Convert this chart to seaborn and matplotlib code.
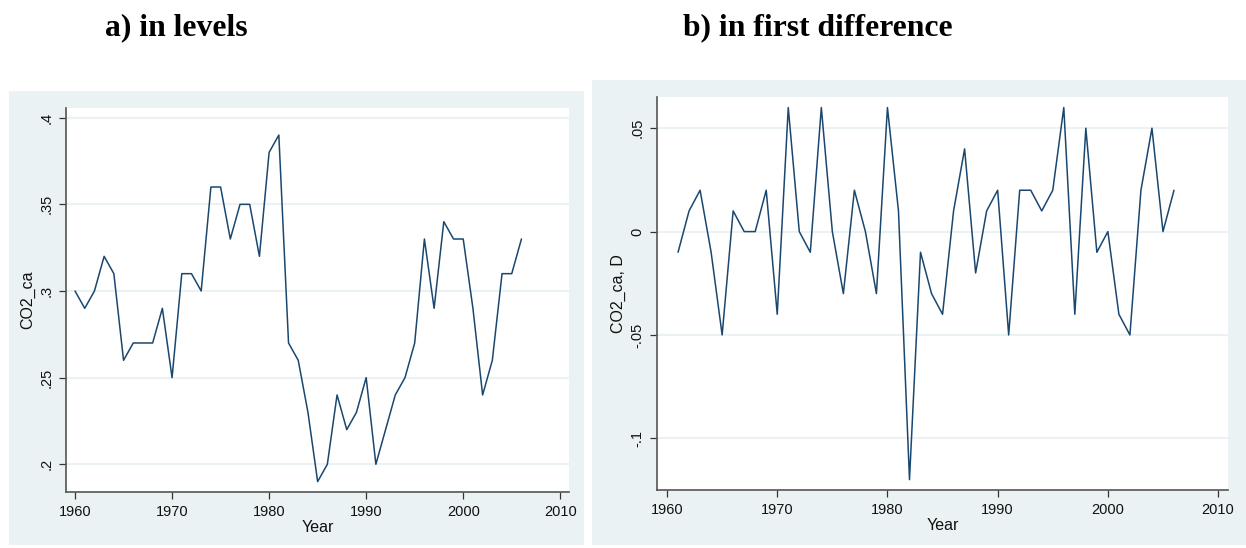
import pandas as pd
import seaborn as sns
import matplotlib.pyplot as plt
from matplotlib.patches import Rectangle

sns.set_style("white")
plt.rcParams['font.family'] = ['Liberation Sans', 'DejaVu Sans']

# Series
years = list(range(1960, 2007))
co2_levels = [0.30, 0.29, 0.30, 0.32, 0.31, 0.26, 0.27, 0.27, 0.27, 0.29,
              0.25, 0.31, 0.31, 0.30, 0.36, 0.36, 0.33, 0.35, 0.35, 0.32,
              0.38, 0.39, 0.27, 0.26, 0.23, 0.19, 0.20, 0.24, 0.22, 0.23,
              0.25, 0.20, 0.22, 0.24, 0.25, 0.27, 0.33, 0.29, 0.34, 0.33,
              0.33, 0.29, 0.24, 0.26, 0.31, 0.31, 0.33]

diff_years = list(range(1961, 2007))
co2_diff = [-0.01, 0.01, 0.02, -0.01, -0.05, 0.01, 0.00, 0.00, 0.02,
            -0.04, 0.06, 0.00, -0.01, 0.06, 0.00, -0.03, 0.02, 0.00, -0.03,
            0.06, 0.01, -0.12, -0.01, -0.03, -0.04, 0.01, 0.04, -0.02, 0.01,
            0.02, -0.05, 0.02, 0.02, 0.01, 0.02, 0.06, -0.04, 0.05, -0.01,
            0.00, -0.04, -0.05, 0.02, 0.05, 0.00, 0.02]

x_ticks = [1960, 1970, 1980, 1990, 2000, 2010]
lev_ticks = [0.2, 0.25, 0.3, 0.35, 0.4]
lev_labels = ['.2', '.25', '.3', '.35', '.4']
diff_ticks = [-0.1, -0.05, 0.0, 0.05]
diff_labels = ['-.1', '-.05', '0', '.05']

df_lev = pd.DataFrame({'Year': years, 'CO2_ca': co2_levels})
df_diff = pd.DataFrame({'Year': diff_years, 'CO2_ca, D': co2_diff})

W, H = 1246, 548
bg = '#eaf2f3'
navy = '#1a476f'

fig = plt.figure(figsize=(W / 100, H / 100), dpi=100)
fig.patch.set_facecolor('white')


def px_box(x0, y0, x1, y1):
    # pixel box (top-left origin) -> figure fraction [l, b, w, h]
    return [x0 / W, (H - y1) / H, (x1 - x0) / W, (y1 - y0) / H]


# panel backgrounds
for x0, y0, x1, y1 in [(9, 91, 584, 545), (592, 80, 1246, 545)]:
    l, b, w, h = px_box(x0, y0, x1, y1)
    fig.patches.append(Rectangle((l, b), w, h, transform=fig.transFigure,
                                 facecolor=bg, edgecolor='none', zorder=-10))

ax1 = fig.add_axes(px_box(66, 108, 569, 492))
ax2 = fig.add_axes(px_box(657, 97, 1228, 490))

sns.lineplot(data=df_lev, x='Year', y='CO2_ca', ax=ax1, color=navy, linewidth=1.1)
sns.lineplot(data=df_diff, x='Year', y='CO2_ca, D', ax=ax2, color=navy, linewidth=1.1)

ax1.set_xlim(1959.07, 2010.9)
ax1.set_ylim(0.184, 0.4056)
ax1.set_yticks(lev_ticks)
ax1.set_yticklabels(lev_labels)

ax2.set_xlim(1959.09, 2010.9)
ax2.set_ylim(-0.125, 0.0651)
ax2.set_yticks(diff_ticks)
ax2.set_yticklabels(diff_labels)

for ax in (ax1, ax2):
    ax.set_facecolor('white')
    ax.set_xticks(x_ticks)
    ax.grid(axis='y', color=bg, linewidth=1.5)
    ax.set_axisbelow(True)
    for side in ('top', 'right'):
        ax.spines[side].set_visible(False)
    for side in ('left', 'bottom'):
        ax.spines[side].set_color('#555555')
        ax.spines[side].set_linewidth(1.2)
    ax.tick_params(axis='both', direction='out', length=5, width=0.9,
                   color='#333333', labelsize=10.5, labelcolor='#111111',
                   left=True, bottom=True, pad=4)
    for lab in ax.get_yticklabels():
        lab.set_rotation(90)
        lab.set_va('center')
    ax.set_xlabel('Year', fontsize=11.5, color='#111111', labelpad=1)
    ax.set_ylabel(ax.get_ylabel(), fontsize=11.5, color='#111111', labelpad=3)

fig.text(176.5 / W, 1 - 28 / H, 'a) in levels', ha='center', va='center', color='black',
         fontsize=22.8, fontweight='bold', family=['Liberation Serif', 'DejaVu Serif'])
fig.text(817.5 / W, 1 - 28 / H, 'b) in first difference', ha='center', va='center', color='black',
         fontsize=22.8, fontweight='bold', family=['Liberation Serif', 'DejaVu Serif'])

fig.savefig('out.png', dpi=100, facecolor='white')
